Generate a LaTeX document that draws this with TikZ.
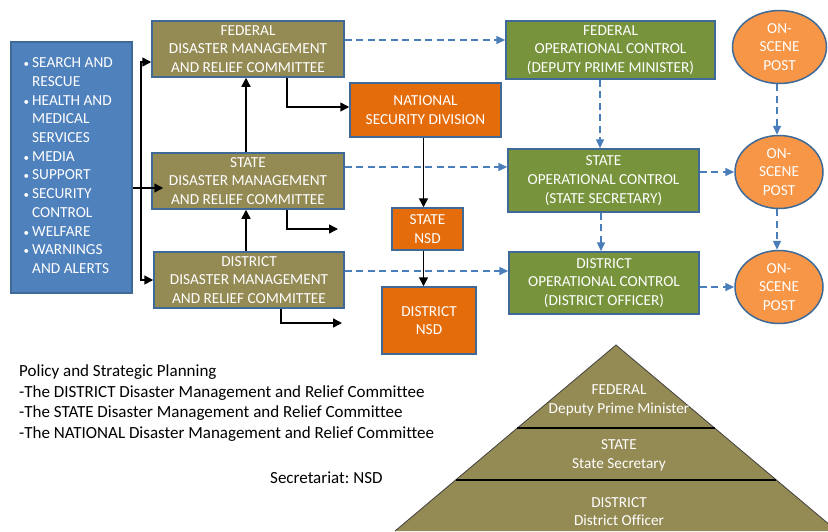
\documentclass[tikz,border=0pt]{standalone}
\usepackage{fontspec}
\setmainfont{Carlito}[Ligatures=NoCommon]
\usetikzlibrary{arrows.meta,shapes.geometric,calc}
\frenchspacing
\definecolor{olivebox}{HTML}{948A54}
\definecolor{edgeblue}{HTML}{3F6A98}
\definecolor{bluefill}{HTML}{4F81BD}
\definecolor{greenbox}{HTML}{77933C}
\definecolor{orangebox}{HTML}{E46C0A}
\definecolor{ovalfill}{HTML}{F79646}
\definecolor{dashblue}{HTML}{4A7EBB}
\newcommand{\smallbul}{{\fontsize{11}{11}\selectfont\textbullet}}
\tikzset{
  boxfont/.style={font=\fontsize{15.3}{18.7}\selectfont},
  basebox/.style={rectangle, draw=edgeblue, line width=1.5pt, text=white, boxfont, align=center, inner sep=0pt},
  olive/.style={basebox, fill=olivebox},
  greenb/.style={basebox, fill=greenbox},
  orangeb/.style={basebox, fill=orangebox},
  oval/.style={ellipse, draw=edgeblue, line width=1.5pt, fill=ovalfill, text=white, boxfont, align=center, inner sep=0pt},
  arr/.style={line width=1.5pt, -{Triangle[length=9pt,width=9pt]}},
  darr/.style={line width=1.5pt, dashblue, dash pattern=on 7pt off 4.5pt, -{Triangle[length=9pt,width=8pt]}},
  plain/.style={font=\fontsize{17}{20.7}\selectfont, align=left, inner sep=0pt, anchor=west},
  pyrtext/.style={text=white, boxfont, align=center, inner sep=0pt}
}
\begin{document}
\begin{tikzpicture}[x=1pt,y=-1pt]
\useasboundingbox (0,0) rectangle (828,531);
\clip (0,0) rectangle (828,531);

% blue list box
\node[basebox, fill=bluefill, minimum width=121pt, minimum height=251pt] (blue) at (71.5,167.5) {};
\node[text=white, boxfont, inner sep=0pt, anchor=north west] (list) at (23.5,54.5) {%
\begin{tabular}{@{}l@{\hspace{3pt}}l@{}}
\smallbul & SEARCH AND\\
 & RESCUE\\
\smallbul & HEALTH AND\\
 & MEDICAL\\
 & SERVICES\\
\smallbul & MEDIA\\
\smallbul & SUPPORT\\
\smallbul & SECURITY\\
 & CONTROL\\
\smallbul & WELFARE\\
\smallbul & WARNINGS\\
 & AND ALERTS
\end{tabular}};

% committees
\node[olive, minimum width=192pt, minimum height=56pt] (fed) at (248,49) {FEDERAL\\DISASTER MANAGEMENT\\AND RELIEF COMMITTEE};
\node[olive, minimum width=192pt, minimum height=56pt] (state) at (248,181) {STATE\\DISASTER MANAGEMENT\\AND RELIEF COMMITTEE};
\node[olive, minimum width=190pt, minimum height=56pt] (dist) at (249,280) {DISTRICT\\DISASTER MANAGEMENT\\AND RELIEF COMMITTEE};

% NSD
\node[orangeb, minimum width=151pt, minimum height=54pt] (nsd) at (425.5,110) {NATIONAL\\SECURITY DIVISION};
\node[orangeb, minimum width=71pt, minimum height=42pt] (snsd) at (427.5,229) {STATE\\NSD};
\node[orangeb, minimum width=94pt, minimum height=67pt] (dnsd) at (429,320.5) {DISTRICT\\NSD};

% operational control
\node[greenb, minimum width=209pt, minimum height=58pt] (fedoc) at (610.5,50) {FEDERAL\\OPERATIONAL CONTROL\\(DEPUTY PRIME MINISTER)};
\node[greenb, minimum width=191pt, minimum height=63pt] (stoc) at (603.5,180.5) {STATE\\OPERATIONAL CONTROL\\(STATE SECRETARY)};
\node[greenb, minimum width=190pt, minimum height=62pt] (dioc) at (604,283) {DISTRICT\\OPERATIONAL CONTROL\\(DISTRICT OFFICER)};

% on-scene posts
\node[oval, minimum width=94pt, minimum height=73pt] (ov1) at (779.5,47) {ON-\\SCENE\\POST};
\node[oval, minimum width=88pt, minimum height=73pt] (ov2) at (779,172) {ON-\\SCENE\\POST};
\node[oval, minimum width=88pt, minimum height=73pt] (ov3) at (779,287) {ON-\\SCENE\\POST};

% black connectors
\coordinate (vx) at (141,188);
\draw[arr] (vx) |- ([yshift=-13pt]fed.west);
\draw[arr] (vx) |- (dist.west);
\draw[arr, shorten >=-12pt] (blue.east |- vx) -- (state.west |- vx);
\draw[arr] ([xshift=-2pt]state.north) -- ([xshift=-2pt]fed.south);
\draw[arr] ([xshift=-3pt]dist.north) -- ([xshift=-2pt]state.south);
\draw[arr] ([xshift=39pt]fed.south) |- ([yshift=3pt]nsd.west);
\coordinate (sfree) at (338,229);
\coordinate (dfree) at (342,323);
\draw[arr] ([xshift=39pt]state.south) |- (sfree);
\draw[arr] ([xshift=32pt]dist.south) |- (dfree);
\draw[arr] ([xshift=-2pt]nsd.south) -- ([xshift=-2pt]nsd.south |- snsd.north);
\draw[arr] ([xshift=-4pt]snsd.south) -- ([xshift=-4pt]snsd.south |- dnsd.north);

% dashed connectors
\draw[darr] ([yshift=9pt]fed.east) -- ([yshift=9pt]fed.east -| fedoc.west);
\draw[darr] ([yshift=14pt]state.east) -- ([yshift=14pt]state.east -| stoc.west);
\draw[darr] ([yshift=9pt]dist.east) -- ([yshift=9pt]dist.east -| dioc.west);
\draw[darr] ([xshift=-10.5pt]fedoc.south) -- ([xshift=-10.5pt]fedoc.south |- stoc.north);
\draw[darr] ([xshift=-2.5pt]stoc.south) -- ([xshift=-2.5pt]stoc.south |- dioc.north);
\draw[darr] (stoc.east |- ov2.west) -- (ov2.west);
\draw[darr] (dioc.east |- ov3.west) -- (ov3.west);
\draw[darr] ([xshift=-2.5pt]ov1.south) -- ([xshift=-2.5pt]ov1.south |- ov2.north);
\draw[darr] ([xshift=-2pt]ov2.south) -- ([xshift=-2pt]ov2.south |- ov3.north);

% text block
\node[plain, anchor=north west] (pol) at (19,364.5) {Policy and Strategic Planning\\-The DISTRICT Disaster Management and Relief Committee\\-The STATE Disaster Management and Relief Committee\\-The NATIONAL Disaster Management and Relief Committee};
\node[plain, anchor=base west] (sec) at (270,483) {Secretariat: NSD};

% pyramid
\coordinate (apex) at (616,345);
\coordinate (bl) at (395,531);
\coordinate (br) at (837,531);
\fill[olivebox] (apex) -- (bl) -- (br) -- cycle;
\draw[black!75, line width=0.8pt] (bl) -- (apex) -- (br);
\draw[black, line width=1.5pt] ($(apex)!83/186!(bl)$) -- ($(apex)!83/186!(br)$);
\draw[black, line width=1.5pt] ($(apex)!135/186!(bl)$) -- ($(apex)!135/186!(br)$);
\node[pyrtext] (p1) at (619,400.5) {FEDERAL\\Deputy Prime Minister};
\node[pyrtext] (p2) at (619,455) {STATE\\State Secretary};
\node[pyrtext] (p3) at (619,511.5) {DISTRICT\\District Officer};
\end{tikzpicture}
\end{document}
